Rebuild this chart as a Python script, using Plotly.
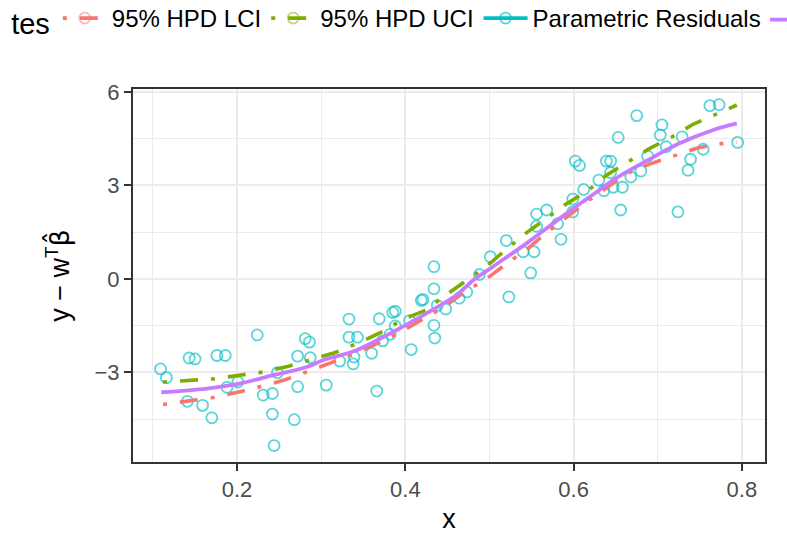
import plotly.graph_objects as go

# ---- Data ----
resid_x = [0.109, 0.116, 0.143, 0.150, 0.141, 0.159, 0.170, 0.176, 0.186, 0.188,
           0.201, 0.224, 0.231, 0.242, 0.242, 0.244, 0.248, 0.268, 0.272, 0.272,
           0.281, 0.286, 0.287, 0.306, 0.322, 0.333, 0.333, 0.338, 0.339, 0.343,
           0.360, 0.366, 0.369, 0.373, 0.382, 0.385, 0.388, 0.388, 0.407, 0.405,
           0.419, 0.421, 0.434, 0.434, 0.434, 0.435, 0.438, 0.448, 0.464, 0.473,
           0.488, 0.501, 0.520, 0.523, 0.549, 0.540, 0.553, 0.556, 0.568, 0.556,
           0.581, 0.585, 0.599, 0.599, 0.602, 0.607, 0.612, 0.630, 0.636, 0.639,
           0.644, 0.644, 0.647, 0.658, 0.656, 0.653, 0.668, 0.680, 0.675, 0.688,
           0.705, 0.703, 0.710, 0.729, 0.724, 0.736, 0.739, 0.754, 0.762, 0.773,
           0.795]
resid_y = [-2.89, -3.17, -2.54, -2.57, -3.93, -4.06, -4.46, -2.46, -2.46, -3.48,
           -3.31, -1.80, -3.73, -3.68, -4.34, -5.35, -3.01, -4.52, -2.48, -3.46,
           -1.92, -2.03, -2.53, -3.41, -2.64, -1.29, -1.87, -2.73, -2.51, -1.87,
           -2.39, -3.60, -1.28, -1.99, -1.78, -1.08, -1.04, -1.51, -2.27, -1.34,
           -0.69, -0.66, -0.32, 0.39, -1.49, -1.90, -0.85, -0.97, -0.62, -0.42,
           0.14, 0.71, 1.23, -0.58, 0.19, 0.87, 0.87, 2.08, 2.21, 1.69,
           1.77, 1.27, 2.56, 2.15, 3.78, 3.64, 2.87, 3.17, 2.83, 3.78,
           3.78, 3.41, 2.94, 2.94, 2.21, 4.54, 3.27, 3.46, 5.24, 3.94,
           4.94, 4.62, 4.24, 4.56, 2.15, 3.49, 3.84, 4.16, 5.56, 5.59,
           4.38]

fit_x = [0.110, 0.164, 0.203, 0.243, 0.283, 0.302, 0.342, 0.382, 0.421, 0.461,
         0.481, 0.504, 0.544, 0.584, 0.608, 0.627, 0.647, 0.687, 0.726, 0.766, 0.794]
fit_y = [-3.64, -3.52, -3.36, -3.09, -2.83, -2.61, -2.29, -1.75, -1.17, -0.52,
         -0.04, 0.39, 1.14, 1.95, 2.42, 2.78, 3.17, 3.79, 4.35, 4.78, 4.99]

lci_x = [0.112, 0.141, 0.172, 0.201, 0.230, 0.258, 0.314, 0.341, 0.369, 0.396,
         0.421, 0.446, 0.471, 0.496, 0.520, 0.544, 0.567, 0.591, 0.615, 0.638,
         0.664, 0.691, 0.718, 0.746, 0.775, 0.794]
lci_y = [-4.03, -3.92, -3.81, -3.64, -3.45, -3.23, -2.67, -2.40, -2.04, -1.68,
         -1.29, -0.90, -0.41, -0.01, 0.48, 0.94, 1.46, 1.97, 2.46, 2.90,
         3.39, 3.69, 3.95, 4.19, 4.34, 4.38]

uci_x = [0.112, 0.142, 0.172, 0.201, 0.231, 0.260, 0.316, 0.344, 0.371, 0.397,
         0.424, 0.448, 0.473, 0.497, 0.520, 0.543, 0.567, 0.591, 0.616, 0.639,
         0.665, 0.690, 0.716, 0.742, 0.769, 0.794]
uci_y = [-3.31, -3.25, -3.21, -3.10, -2.99, -2.81, -2.37, -2.06, -1.72, -1.30,
         -1.01, -0.52, -0.06, 0.41, 0.95, 1.46, 1.93, 2.40, 2.81, 3.33,
         3.76, 4.18, 4.54, 4.96, 5.28, 5.58]

legend_title = "tes"
series_names = ["95% HPD LCI", "95% HPD UCI", "Parametric Residuals", ""]
x_ticks = [0.2, 0.4, 0.6, 0.8]
y_ticks = [-3, 0, 3, 6]

RED, GREEN, CYAN, PURPLE = "#F8766D", "#7CAE00", "#00BFC4", "#C77CFF"
DOTDASH = "4px,13px,18px,13px"
FONT = "Liberation Sans, Arial, Helvetica, sans-serif"

fig = go.Figure()

# data traces
fig.add_trace(go.Scatter(x=resid_x, y=resid_y, mode="markers", showlegend=False,
                         marker=dict(symbol="circle-open", size=11,
                                     color="rgba(0,191,196,0.65)", line=dict(width=1.8))))
fig.add_trace(go.Scatter(x=lci_x, y=lci_y, mode="lines", showlegend=False,
                         line=dict(color=RED, width=3.6, dash=DOTDASH)))
fig.add_trace(go.Scatter(x=uci_x, y=uci_y, mode="lines", showlegend=False,
                         line=dict(color=GREEN, width=3.6, dash=DOTDASH)))
fig.add_trace(go.Scatter(x=fit_x, y=fit_y, mode="lines", showlegend=False,
                         line=dict(color=PURPLE, width=3.8, shape="spline")))

# legend keys (line + point, like ggplot's combined keys)
leg_styles = [
    (RED, DOTDASH, "rgba(248,118,109,0.5)", "legend"),
    (GREEN, DOTDASH, "rgba(124,174,0,0.5)", "legend"),
    (CYAN, "solid", "rgba(0,191,196,0.65)", "legend"),
    (PURPLE, "solid", "rgba(199,124,255,0.0)", "legend2"),
]
for name, (c, d, mc, lg) in zip(series_names, leg_styles):
    fig.add_trace(go.Scatter(x=[None], y=[None], mode="lines+markers", name=name,
                             legend=lg,
                             line=dict(color=c, width=3.6, dash=d),
                             marker=dict(symbol="circle-open", size=11, color=mc,
                                         line=dict(width=1.8))))

axis_common = dict(
    showline=True, mirror=True, linecolor="#333333", linewidth=2,
    ticks="outside", ticklen=7, tickwidth=2, tickcolor="#333333",
    tickfont=dict(family=FONT, size=22, color="#4D4D4D"),
    showgrid=True, gridcolor="#EBEBEB", gridwidth=2,
    zeroline=False, automargin=False,
    title_font=dict(family=FONT, size=27, color="black"),
)

fig.update_xaxes(range=[0.0763, 0.8275], tickvals=x_ticks,
                 ticktext=[f"{v:.1f}" for v in x_ticks],
                 minor=dict(dtick=0.1, tick0=0, showgrid=True, gridcolor="#EBEBEB",
                            gridwidth=1, ticks=""),
                 title=dict(text="x", standoff=15), **axis_common)
fig.update_yaxes(range=[-5.878, 6.094], tickvals=y_ticks,
                 ticktext=["\u22123", "0", "3", "6"],
                 minor=dict(dtick=1.5, tick0=0, showgrid=True, gridcolor="#EBEBEB",
                            gridwidth=1, ticks=""),
                 title=dict(text="y \u2212 w<sup>T</sup><span style=\"font-family:DejaVu Sans\">\u03b2\u0302</span>",
                            standoff=17),
                 **axis_common)

fig.update_layout(
    width=787, height=534,
    margin=dict(l=133, r=22, t=89, b=72, autoexpand=False),
    paper_bgcolor="white", plot_bgcolor="white",
    font=dict(family=FONT, color="black"),
    legend=dict(orientation="h", x=-0.196, xanchor="left", y=1.185, yanchor="middle",
                title=dict(text=legend_title, font=dict(size=29, family=FONT), side="left"),
                font=dict(size=24, family=FONT, color="black"),
                itemwidth=44, bgcolor="rgba(0,0,0,0)"),
    legend2=dict(orientation="h", x=1.0, xanchor="left", y=1.185, yanchor="middle",
                 font=dict(size=24, family=FONT, color="black"),
                 itemwidth=40, bgcolor="rgba(0,0,0,0)"),
)

fig.write_html("out.html", config={"displayModeBar": False},
               post_script="document.body.style.margin='0';")
